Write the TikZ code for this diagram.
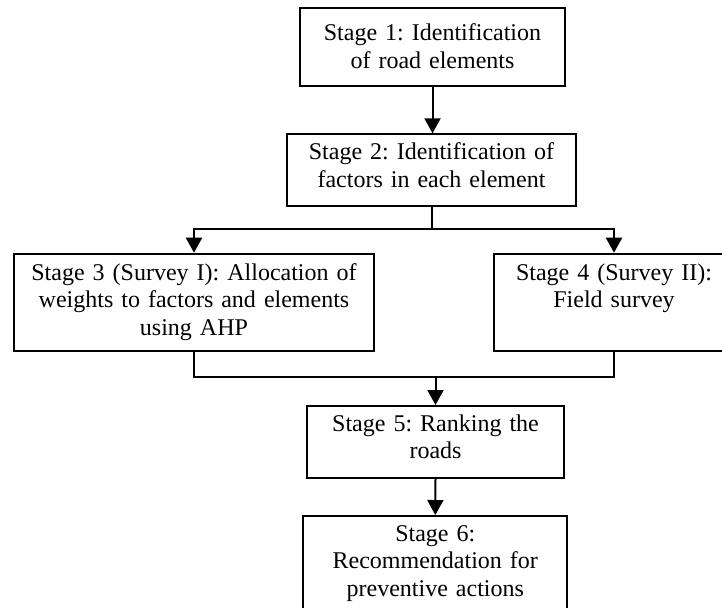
\documentclass[tikz,border=0pt]{standalone}
\usepackage{fontspec}
\setmainfont{Liberation Serif}
\usetikzlibrary{arrows.meta}
\frenchspacing

\tikzset{
  stagebox/.style={draw,line width=1pt,anchor=north,align=center,inner xsep=0pt,inner ysep=0pt,font=\fontsize{12pt}{13.8pt}\selectfont},
  flowarrow/.style={line width=1pt,-{Triangle[width=8pt,length=7.5pt]}},
  flowline/.style={line width=1pt}
}

\begin{document}
\begin{tikzpicture}[x=0.5pt,y=-0.5pt]
\clip (0,0) rectangle (722,607);
\fill[white] (0,0) rectangle (722,607);
\node[stagebox,text width=132.5pt,text height=16.3pt,text depth=22.5pt] (s1) at (432.5,7.3) {Stage 1: Identification\\of road elements};
\node[stagebox,text width=144.5pt,text height=12.7pt,text depth=23.2pt] (s2) at (431.5,133.3) {Stage 2: Identification of\\factors in each element};
\node[stagebox,text width=180pt,text height=13.2pt,text depth=35.3pt] (s3) at (194,252.7) {Stage 3 (Survey I): Allocation of\\weights to factors and elements\\using AHP};
\node[stagebox,text width=120pt,text height=13.2pt,text depth=35.3pt] (s4) at (614,252.7) {Stage 4 (Survey II):\\Field survey};
\node[stagebox,text width=128.8pt,text height=12.5pt,text depth=23.4pt] (s5) at (435.5,405) {Stage 5: Ranking the\\roads};
\node[stagebox,text width=132pt,text height=12.5pt,text depth=40pt] (s6) at (435.3,515) {Stage 6:\\Recommendation for\\preventive actions};

\coordinate (split) at (0,229.3);
\coordinate (merge) at (0,377.3);

\draw[flowarrow] (s1.south) -- (s1.south |- s2.north);
\draw[flowarrow] (s2.south) -- (s2.south |- split) -| (s3.north);
\draw[flowarrow] (s2.south |- split) -| (s4.north);
\draw[flowline] (s3.south) |- (s4.south |- merge) -- (s4.south);
\draw[flowarrow] (s5.north |- merge) -- (s5.north);
\draw[flowarrow] (s5.south) -- (s6.north);
\end{tikzpicture}
\end{document}
